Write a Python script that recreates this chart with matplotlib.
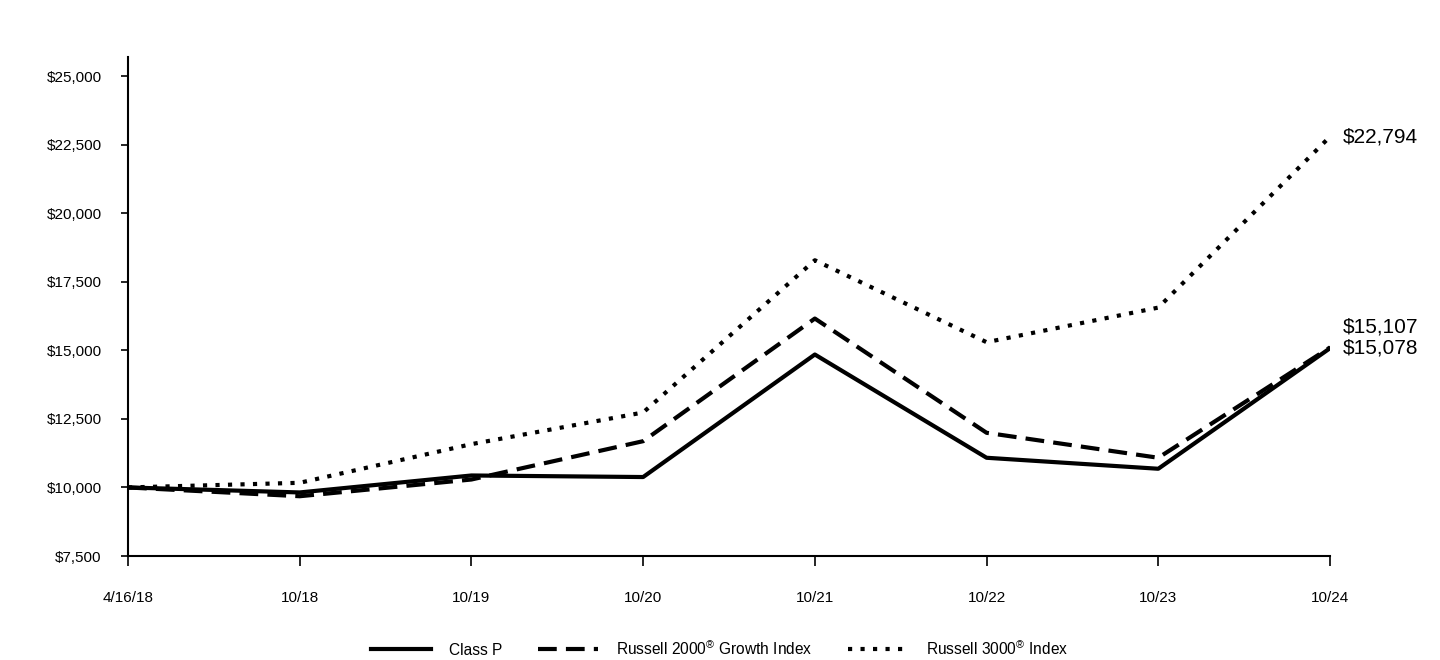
import matplotlib.pyplot as plt
from matplotlib.ticker import FuncFormatter

plt.rcParams['font.family'] = ['Liberation Sans', 'DejaVu Sans']
plt.rcParams['mathtext.fontset'] = 'custom'
plt.rcParams['mathtext.rm'] = 'Liberation Sans'

# data
dates = ['4/16/18', '10/18', '10/19', '10/20', '10/21', '10/22', '10/23', '10/24']
class_p = [10000, 9818, 10437, 10380, 14849, 11083, 10682, 15078]
r2000_growth = [10000, 9680, 10290, 11688, 16161, 11994, 11083, 15107]
r3000 = [10000, 10170, 11580, 12734, 18287, 15298, 16560, 22794]
y_ticks = [7500, 10000, 12500, 15000, 17500, 20000, 22500, 25000]

fig = plt.figure(figsize=(14.4, 6.6), dpi=100)
ax = fig.add_axes([128 / 1440, 1 - 556 / 660, (1330 - 128) / 1440, (556 - 57) / 660])

x = list(range(len(dates)))
ax.plot(x, class_p, color='black', lw=3, label='Class P')
ax.plot(x, r2000_growth, color='black', lw=3, dashes=(4.5, 2.2),
        label=r'Russell 2000$^{\circledR}$ Growth Index')
ax.plot(x, r3000, color='black', lw=3, dashes=(1, 2),
        label=r'Russell 3000$^{\circledR}$ Index')

ax.set_xlim(0, len(dates) - 1)
ax.set_ylim(7500, 25700)
ax.set_xticks(x)
ax.set_xticklabels(dates)
ax.set_yticks(y_ticks)
ax.yaxis.set_major_formatter(FuncFormatter(lambda v, p: f'${v:,.0f}'))

for s in ['top', 'right']:
    ax.spines[s].set_visible(False)
for s in ['left', 'bottom']:
    ax.spines[s].set_linewidth(1.5)
ax.tick_params(axis='x', length=7, width=1.2, pad=18, labelsize=11)
ax.tick_params(axis='y', length=5, width=1.2, pad=14, labelsize=11)

# end value labels
ax.annotate(f'${r3000[-1]:,}', (x[-1], r3000[-1]), xytext=(9, 0),
            textcoords='offset points', va='center', fontsize=15)
ax.annotate(f'${r2000_growth[-1]:,}', (x[-1], class_p[-1]), xytext=(9, 15),
            textcoords='offset points', va='center', fontsize=15)
ax.annotate(f'${class_p[-1]:,}', (x[-1], class_p[-1]), xytext=(9, 0),
            textcoords='offset points', va='center', fontsize=15)

fig.legend(loc='lower center', bbox_to_anchor=(0.5, -0.018), ncol=3, frameon=False,
           fontsize=11.2, handlelength=3.8, columnspacing=2.3, handletextpad=1.2)

fig.savefig('out.png', dpi=100)
